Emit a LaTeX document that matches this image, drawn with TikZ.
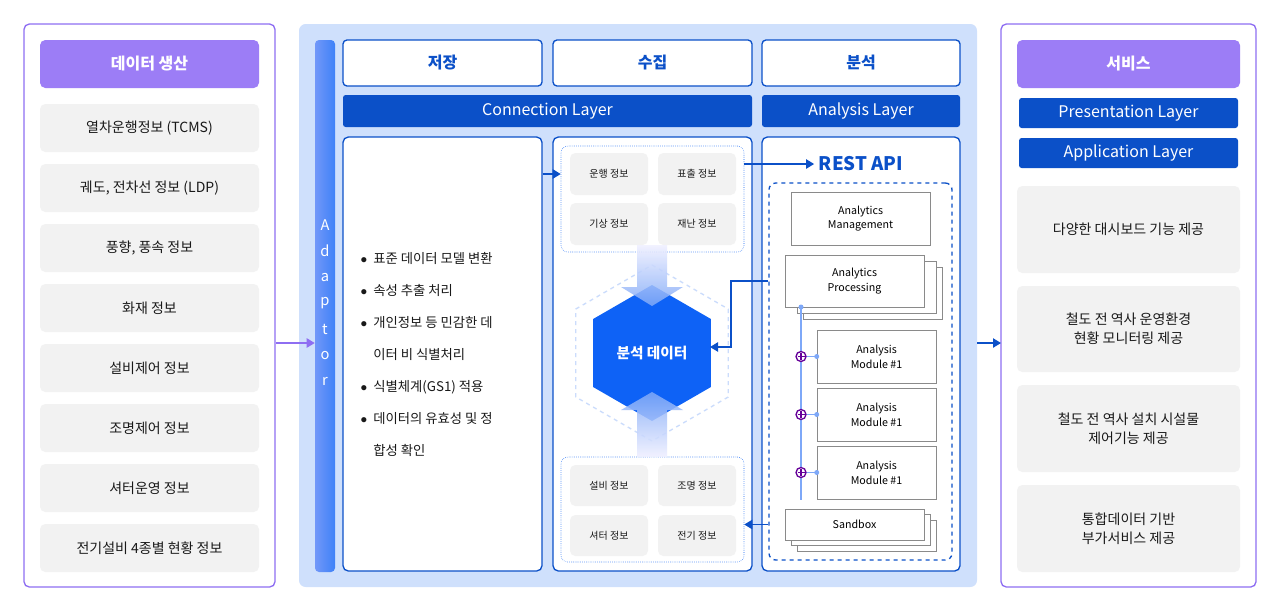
\documentclass[tikz,border=0pt]{standalone}
\usepackage{fontspec}
\setmainfont{Noto Sans CJK KR}
\usetikzlibrary{arrows.meta,shapes.geometric}
\definecolor{pbd}{HTML}{8E6EF2}
\definecolor{pfill}{HTML}{9C7DF6}
\definecolor{bg}{HTML}{CFE0FC}
\definecolor{dblue}{HTML}{0B50C8}
\definecolor{hexblue}{HTML}{0E62F6}
\definecolor{lgray}{HTML}{F2F2F2}
\definecolor{mgray}{HTML}{8A8A8A}
\definecolor{lblue}{HTML}{7EA8F8}
\tikzset{
  sz/.style 2 args={minimum width=#1*0.75pt,minimum height=#2*0.75pt,inner sep=0pt},
  item/.style={fill=lgray,rounded corners=4pt,font=\fontsize{10.5}{14}\selectfont,text=black!90,align=center},
  small/.style={fill=lgray,rounded corners=4pt,font=\fontsize{7.5}{9}\selectfont,text=black!90},
  ttl/.style={fill=pfill,rounded corners=4pt,text=white,font=\fontsize{12}{14}\selectfont\bfseries},
  head/.style={draw=dblue,line width=1pt,fill=white,rounded corners=3pt,text=dblue,font=\fontsize{12}{14}\selectfont\bfseries},
  layer/.style={fill=dblue,rounded corners=2pt,text=white,font=\fontsize{12}{14}\selectfont},
  panel/.style={draw=dblue,line width=1pt,fill=white,rounded corners=4pt},
  mod/.style={draw=mgray,fill=white,font=\fontsize{8}{11}\selectfont,align=center},
  arr/.style={-{Triangle[length=6pt,width=7pt]},dblue,line width=1pt},
}
\begin{document}
\begin{tikzpicture}[x={(0.75pt,0)},y={(0,-0.75pt)}]
\useasboundingbox (0,0) rectangle (1280,612);
% left column
\draw[pbd,line width=1pt,fill=white,rounded corners=4pt] (24,24) rectangle (275,587);
\node[ttl,sz={219}{48}] (src) at (149.5,64) {데이터 생산};
\foreach [count=\i] \t in {열차운행정보 (TCMS),{궤도, 전차선 정보 (LDP)},{풍향, 풍속 정보},화재 정보,설비제어 정보,조명제어 정보,셔터운영 정보,전기설비 4종별 현황 정보}
  \node[item,sz={219}{48}] (s\i) at (149.5,{128+60*(\i-1)}) {\t};
% middle background
\fill[bg,rounded corners=5pt] (299,24) rectangle (977,587);
\coordinate (inL) at (276,343);
\node[sz={20}{532},rounded corners=3pt,left color=lblue!90!blue,right color=hexblue!80] (adp) at (325,306) {};
\foreach [count=\i] \c in {A,d,a,p,t,o,r}
  \node[text=white,font=\fontsize{11}{12}\selectfont] at (325,{225+26*(\i-1)}) {\c};
\draw[-{Triangle[length=6pt,width=7pt]},pbd,line width=1pt] (inL) -- (adp.west |- inL);
% headers
\node[head,sz={199}{46}] (h1) at (442.5,63) {저장};
\node[head,sz={199}{46}] (h2) at (652.5,63) {수집};
\node[head,sz={198}{46}] (h3) at (861,63) {분석};
\node[layer,sz={409}{32}] (conn) at (547.5,111) {Connection Layer};
\node[layer,sz={198}{32}] (anl) at (861,111) {Analysis Layer};
% panels
\node[panel,sz={199}{434}] (p1) at (442.5,354) {};
\node[panel,sz={199}{434}] (p2) at (652.5,354) {};
\node[panel,sz={198}{434}] (p3) at (861,354) {};
\node[anchor=west,align=left,font=\fontsize{10}{24}\selectfont,text=black!90] (proc) at (356,354)
  {$\bullet$\ \ 표준 데이터 모델 변환\\ $\bullet$\ \ 속성 추출 처리\\ $\bullet$\ \ 개인정보 등 민감한 데\\ \phantom{$\bullet$}\ \ 이터 비 식별처리\\ $\bullet$\ \ 식별체계(GS1) 적용\\ $\bullet$\ \ 데이터의 유효성 및 정\\ \phantom{$\bullet$}\ \ 합성 확인};
% collected data groups
\node[draw=hexblue,densely dotted,rounded corners=5pt,sz={183}{106}] (gtop) at (652.5,199) {};
\node[small,sz={78}{42}] (c1) at (609,174) {운행 정보};
\node[small,sz={78}{42}] (c2) at (697,174) {표출 정보};
\node[small,sz={78}{42}] (c3) at (609,224) {기상 정보};
\node[small,sz={78}{42}] (c4) at (697,224) {재난 정보};
\node[draw=hexblue,densely dotted,rounded corners=5pt,sz={183}{105}] (gbot) at (652.5,509.5) {};
\node[small,sz={78}{41}] (c5) at (609,485.5) {설비 정보};
\node[small,sz={78}{41}] (c6) at (697,485.5) {조명 정보};
\node[small,sz={78}{41}] (c7) at (609,535.5) {셔터 정보};
\node[small,sz={78}{41}] (c8) at (697,535.5) {전기 정보};
% hexagon
\fill[white,draw=lblue!40,dashed,line width=1pt] (652,353) +(90:88) -- +(150:88) -- +(210:88) -- +(270:88) -- +(330:88) -- +(30:88) -- cycle;
\fill[hexblue] (652,353) +(90:68) -- +(150:68) -- +(210:68) -- +(270:68) -- +(330:68) -- +(30:68) -- cycle;
\node[text=white,font=\fontsize{11}{13}\selectfont\bfseries] (hex) at (652,353) {분석 데이터};
\shade[top color=blue!6,bottom color=lblue,opacity=.85] (637,245) -- (667,245) -- (667,287) -- (683,287) -- (652,306) -- (621,287) -- (637,287) -- cycle;
\shade[bottom color=blue!6,top color=lblue,opacity=.85] (637,457) -- (667,457) -- (667,410) -- (683,410) -- (652,392) -- (621,410) -- (637,410) -- cycle;
% analysis side
\node[text=dblue,font=\fontsize{14}{16}\selectfont\bfseries] (rest) at (861,164) {REST API};
\node[draw=dblue,dashed,line width=1pt,rounded corners=5pt,sz={183}{377}] (api) at (860.5,371.5) {};
\node[mod,sz={139}{53}] (mgmt) at (860.5,218.5) {Analytics\\Management};
\node[mod,sz={139}{52}] at (873,293) {};
\node[mod,sz={139}{52}] at (867,287) {};
\node[mod,sz={139}{52}] (procA) at (854.5,281) {Analytics\\Processing};
\foreach [count=\i] \y in {356.5,414.5,472.5}
  \node[mod,sz={119}{53}] (m\i) at (876.5,\y) {Analysis\\Module \#1};
\node[mod,sz={139}{31}] at (867,536) {};
\node[mod,sz={139}{31}] at (861,530) {};
\node[mod,sz={139}{31}] (sand) at (854.5,524.5) {Sandbox};
\draw[lblue,line width=1pt] (801,307) -- (801,500);
\fill[lblue] (801,307) circle (2.5);
\foreach \i in {1,2,3} {
  \draw[lblue,line width=1pt] (801,0 |- m\i.west) -- (m\i.west);
  \fill[lblue] (m\i.west) circle (2.5);
  \draw[violet!80!blue,line width=1pt,fill=white] (801,0 |- m\i.west) circle (5);
  \draw[violet!80!blue,line width=.8pt] (797.5,0 |- m\i.west) -- (804.5,0 |- m\i.west) (801,0 |- m\i.west) ++(0,-3.5) -- ++(0,7);
}
% connectors
\draw[arr] (p1.east |- c1) -- (gtop.west |- c1);
\draw[arr] (gtop.east |- rest) -- (rest.west);
\draw[arr] (api.west |- procA) -- (731,0 |- procA) -- (731,347) -- (710,347);
\draw[arr] (api.west |- sand) -- (gbot.east |- sand);
\coordinate (outL) at (977,343);
% right column
\draw[pbd,line width=1pt,fill=white,rounded corners=4pt] (1001,24) rectangle (1256,587);
\draw[arr] (outL) -- (1001,343);
\node[ttl,sz={223}{48}] (svc) at (1128.5,64) {서비스};
\node[layer,sz={219}{30}] (pres) at (1128.5,113) {Presentation Layer};
\node[layer,sz={219}{30}] (appl) at (1128.5,153) {Application Layer};
\node[item,sz={223}{87}] (r1) at (1128.5,229.5) {다양한 대시보드 기능 제공};
\node[item,sz={223}{86}] (r2) at (1128.5,329) {철도 전 역사 운영환경\\현황 모니터링 제공};
\node[item,sz={223}{87}] (r3) at (1128.5,428.5) {철도 전 역사 설치 시설물\\제어기능 제공};
\node[item,sz={223}{87}] (r4) at (1128.5,528.5) {통합데이터 기반\\부가서비스 제공};
\end{tikzpicture}
\end{document}
